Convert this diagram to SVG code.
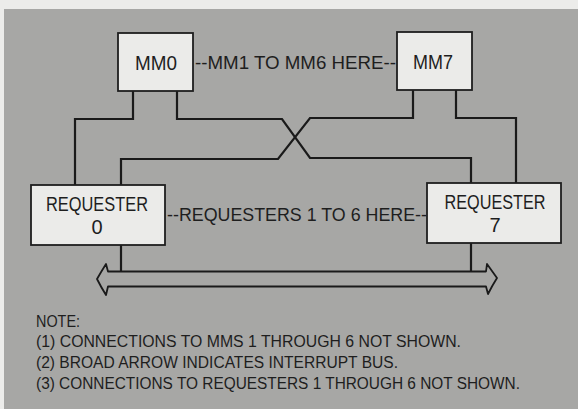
<svg xmlns="http://www.w3.org/2000/svg" width="578" height="409" viewBox="0 0 578 409">
<style>
.box{fill:#ebebe9;stroke:#1e1e1e;stroke-width:1.8}
.lbl{font-family:"Liberation Sans",Arial,sans-serif;font-size:20px;fill:#1e1e1e;text-anchor:middle}
.lab{font-family:"Liberation Sans",Arial,sans-serif;font-size:19px;fill:#1e1e1e}
.note{font-family:"Liberation Sans",Arial,sans-serif;font-size:16px;fill:#1e1e1e}
.wire{fill:none;stroke:#1a1a1a;stroke-width:2.2;stroke-linejoin:miter}
.bus{fill:none;stroke:#1a1a1a;stroke-width:1.8;stroke-linejoin:round}
</style>
<rect x="0" y="0" width="578" height="409" fill="#ececea"/>
<rect x="4" y="9" width="574" height="400" fill="#a7a7a5"/>

<g id="connectors">
<path class="wire" d="M133,91 V119 H75 V185"/>
<path class="wire" d="M177,91 V119 H282 L310,158 H471 V183"/>
<path class="wire" d="M413,90 V118 H310 L278,159 H121 V185"/>
<path class="wire" d="M456,90 V118 H516 V183"/>
<path class="wire" d="M121,245 V272"/>
<path class="wire" d="M471,243 V272"/>
<path id="interrupt-bus" class="bus" d="M97,279 Q101,272 106,264 L108,271.5 H486 L487,264 Q492,271 497,278 Q492,286 488,294 L486,286.5 H108 L106,295 Q101,287 97,279 Z"/>
</g>

<g id="mm0">
<rect class="box" x="118" y="33" width="75" height="58"/>
<text class="lbl" x="156" y="70" textLength="42" lengthAdjust="spacingAndGlyphs">MM0</text>
</g>
<g id="mm7">
<rect class="box" x="397" y="32" width="75" height="58"/>
<text class="lbl" x="433" y="69" textLength="40" lengthAdjust="spacingAndGlyphs">MM7</text>
</g>
<g id="mm-note">
<text class="lab" x="195" y="69" textLength="201" lengthAdjust="spacingAndGlyphs">--MM1 TO MM6 HERE--</text>
</g>
<g id="requester0">
<rect class="box" x="31" y="185" width="134" height="60"/>
<text class="lbl" x="97" y="211" textLength="102" lengthAdjust="spacingAndGlyphs">REQUESTER</text>
<text class="lbl" x="97" y="234">0</text>
</g>
<g id="requester7">
<rect class="box" x="427" y="183" width="134" height="60"/>
<text class="lbl" x="495" y="209" textLength="101" lengthAdjust="spacingAndGlyphs">REQUESTER</text>
<text class="lbl" x="495" y="232">7</text>
</g>
<g id="req-note">
<text class="lab" x="167" y="221" textLength="260" lengthAdjust="spacingAndGlyphs">--REQUESTERS 1 TO 6 HERE--</text>
</g>
<g id="notes">
<text class="note" x="36" y="327" textLength="44" lengthAdjust="spacingAndGlyphs">NOTE:</text>
<text class="note" x="36" y="347" textLength="425" lengthAdjust="spacingAndGlyphs">(1) CONNECTIONS TO MMS 1 THROUGH 6 NOT SHOWN.</text>
<text class="note" x="36" y="368" textLength="362" lengthAdjust="spacingAndGlyphs">(2) BROAD ARROW INDICATES INTERRUPT BUS.</text>
<text class="note" x="36" y="389" textLength="484" lengthAdjust="spacingAndGlyphs">(3) CONNECTIONS TO REQUESTERS 1 THROUGH 6 NOT SHOWN.</text>
</g>
</svg>
